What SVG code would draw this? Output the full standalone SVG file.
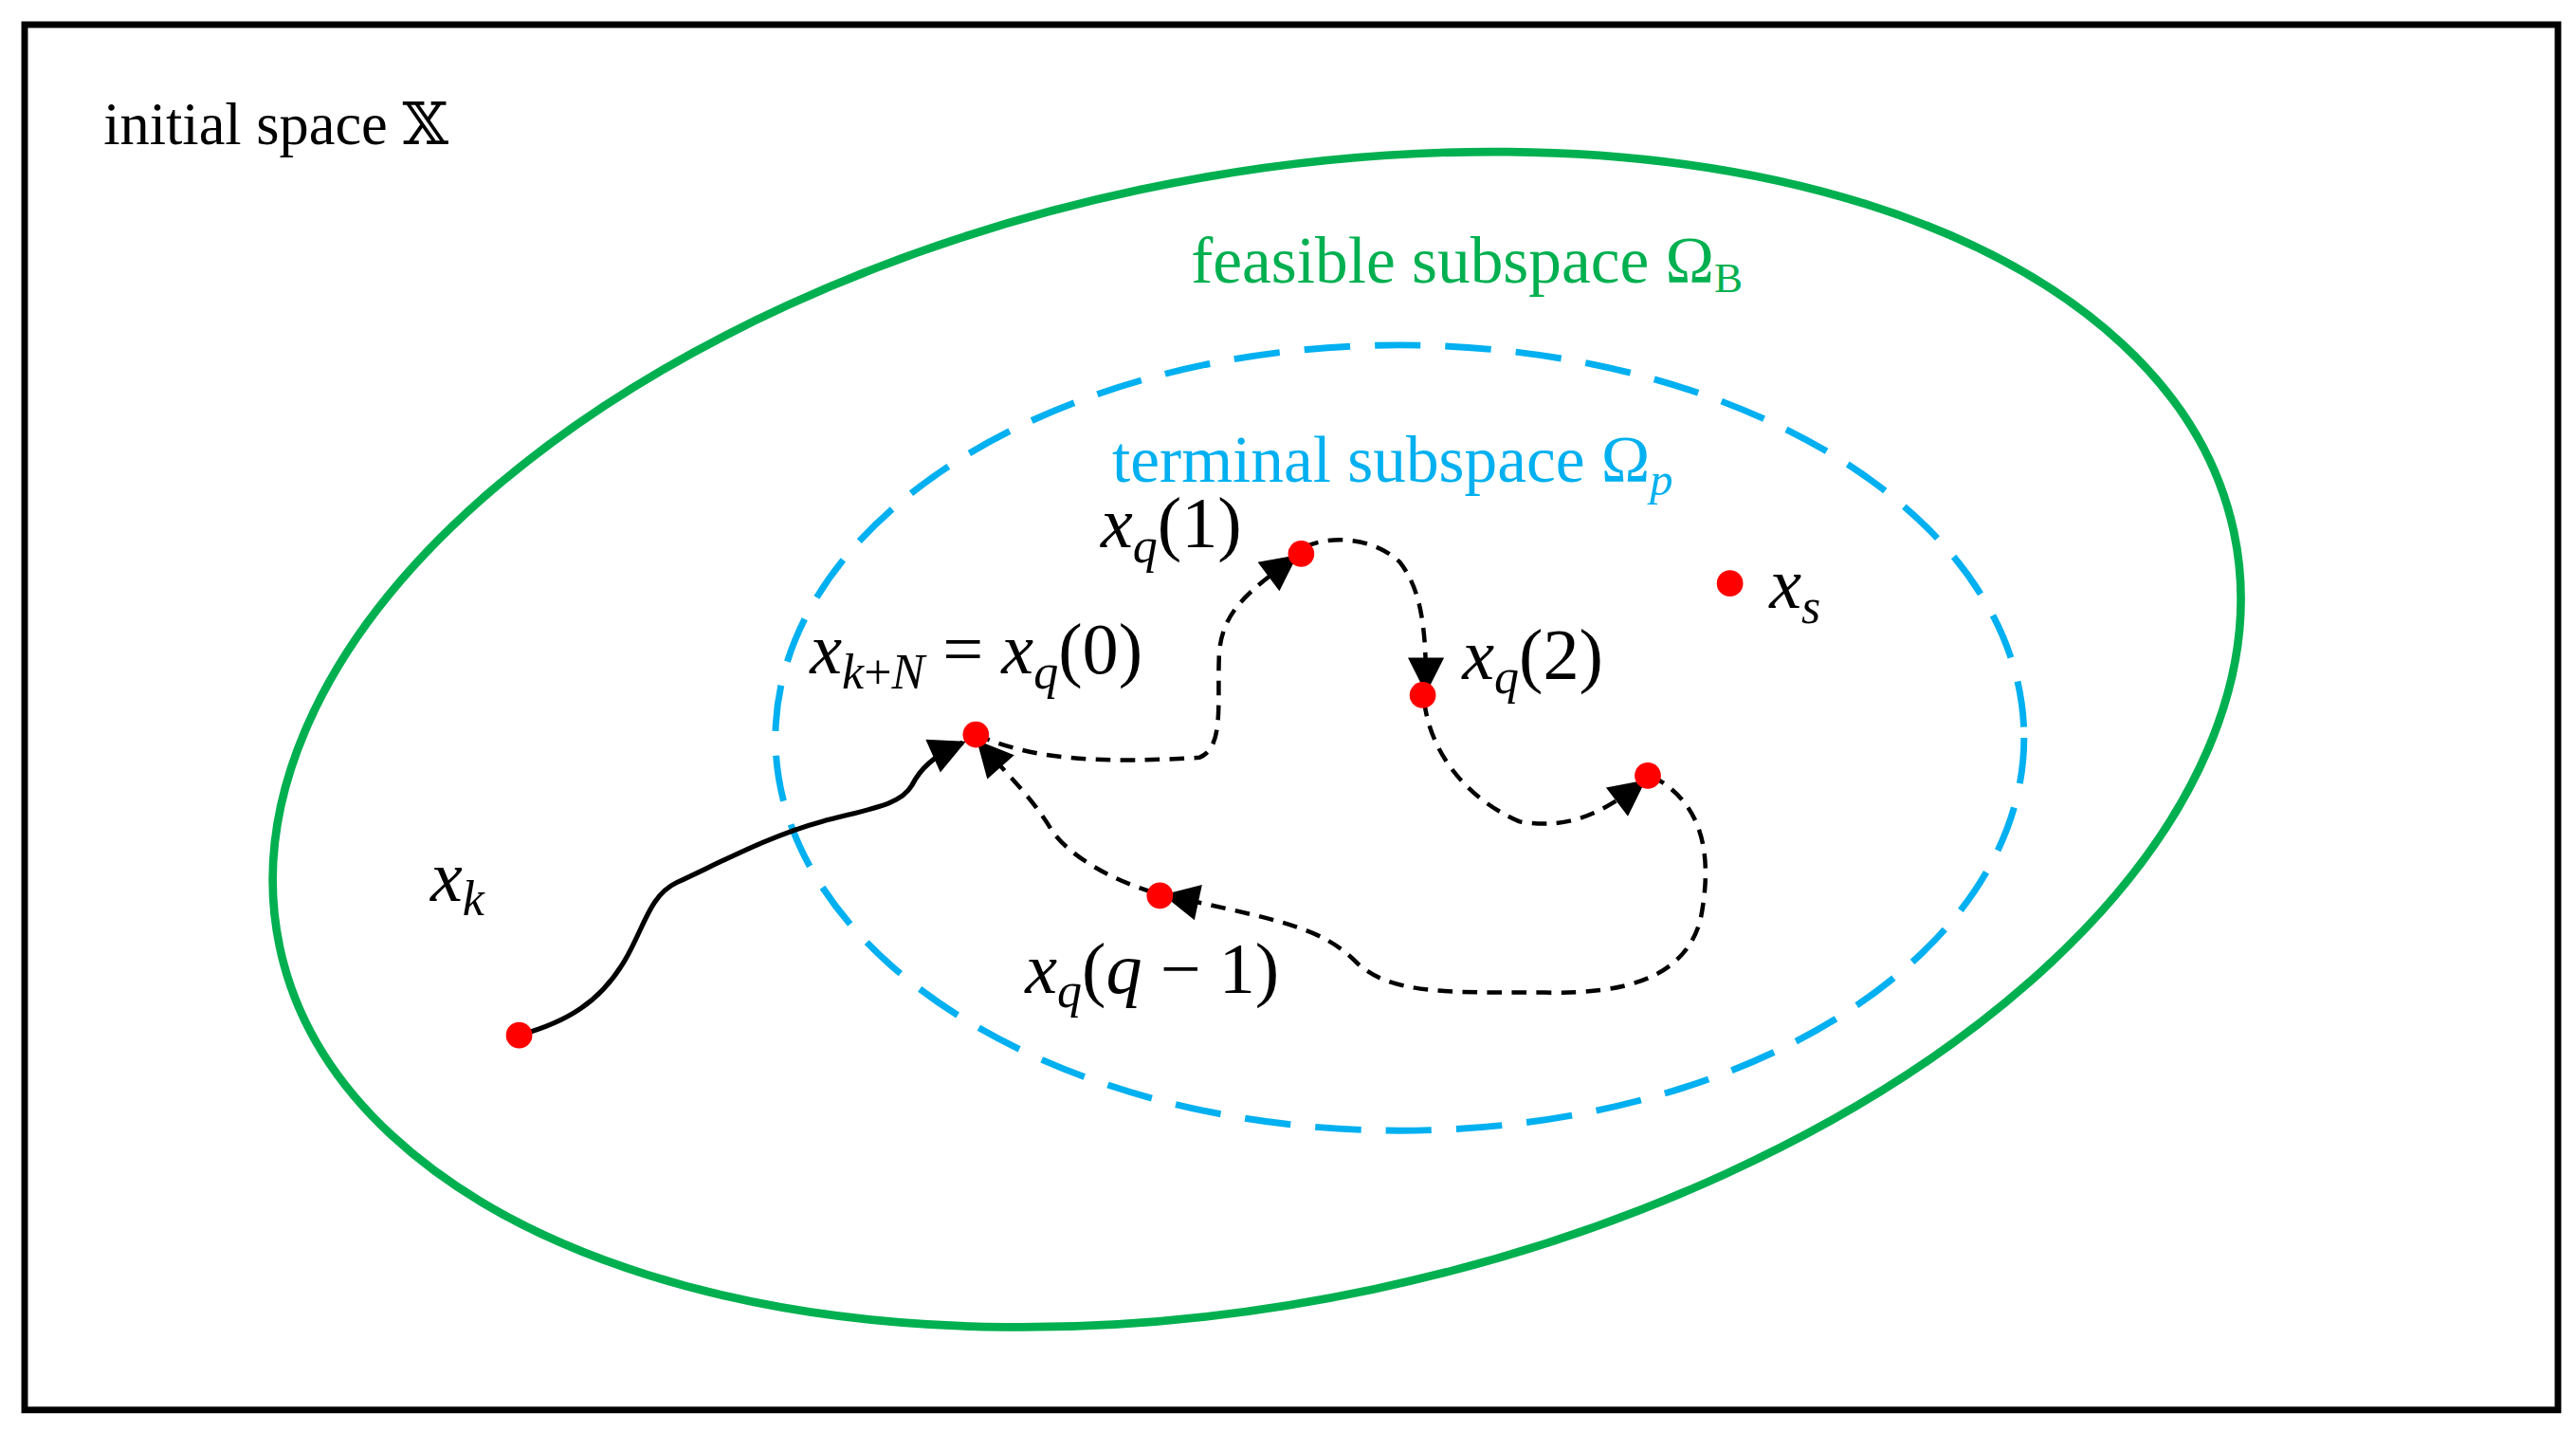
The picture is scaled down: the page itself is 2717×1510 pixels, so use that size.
<svg xmlns="http://www.w3.org/2000/svg" width="2717" height="1510" viewBox="0 0 2717 1510">
<style>
.t{font-family:"Liberation Serif","DejaVu Serif",serif}
.m{font-family:"Liberation Serif","DejaVu Serif",serif;font-style:italic;font-size:44px;fill:#000}
.u{font-style:normal}
.dot{fill:#ff0000}
.dl{fill:none;stroke:#000;stroke-width:2.6;stroke-dasharray:9 6;marker-end:url(#ah)}
</style>
<defs>
<marker id="ah" viewBox="0 0 10 10" refX="9" refY="5" markerWidth="24" markerHeight="22" markerUnits="userSpaceOnUse" orient="auto"><path d="M0,0 L10,5 L0,10 z" fill="#000"/></marker>
</defs>
<rect width="2717" height="1510" fill="#fff"/>
<g transform="scale(1.7328)">
<g id="frame"><rect x="15" y="15" width="1542" height="843" fill="none" stroke="#000" stroke-width="4"/>
<text class="t" x="63" y="88" font-size="36">initial space 𝕏</text></g>
<g id="feasible"><ellipse cx="765" cy="450" rx="608" ry="342" transform="rotate(-12 765 450)" fill="none" stroke="#00b050" stroke-width="5"/>
<text class="t" x="725" y="172" font-size="40" fill="#00b050">feasible subspace Ω<tspan font-size="26" dy="6">B</tspan></text></g>
<g id="terminal"><ellipse cx="852" cy="449" rx="380" ry="239" fill="none" stroke="#00b0f0" stroke-width="4" stroke-dasharray="28 15"/>
<text class="t" x="677" y="293" font-size="40" fill="#00b0f0">terminal subspace Ω<tspan font-size="28" dy="8" font-style="italic">p</tspan></text></g>
<g id="connectors">
<path d="M316,630 C345,622 365,610 380,585 C392,565 395,545 412,537 C440,524 470,508 500,500 C530,492 548,490 555,478 C560,468 568,460 586,452" fill="none" stroke="#000" stroke-width="3" marker-end="url(#ah)"/>
<path class="dl" d="M594,447 C620,458 650,466 730,461 C745,455 741,430 742,400 C743,372 760,360 788,339"/>
<path class="dl" d="M794,333 C808,326 835,326 852,342 C866,360 868,385 868,420"/>
<path class="dl" d="M867,427 C870,455 890,485 925,500 C955,505 975,495 1000,476"/>
<path class="dl" d="M1005,472 C1030,485 1045,510 1035,560 C1025,595 990,605 940,604 C880,604 845,605 825,585 C805,565 780,560 710,545"/>
<path class="dl" d="M702,543 C675,535 650,520 640,505 C628,485 612,470 596,452"/>
</g>
<g id="points">
<circle class="dot" cx="316" cy="630" r="8"/>
<circle class="dot" cx="594" cy="447" r="8"/>
<circle class="dot" cx="792" cy="337" r="8"/>
<circle class="dot" cx="866" cy="423" r="8"/>
<circle class="dot" cx="1003" cy="472" r="8"/>
<circle class="dot" cx="706" cy="545" r="8"/>
<circle class="dot" cx="1053" cy="355" r="8"/>
</g>
<g id="labels">
<text class="m" x="262" y="548">x<tspan font-size="30" dy="9">k</tspan></text>
<text class="m" x="493" y="410">x<tspan font-size="30" dy="9">k<tspan class="u">+</tspan>N</tspan><tspan class="u" dy="-9"> = </tspan>x<tspan font-size="30" dy="9">q</tspan><tspan class="u" dy="-9">(0)</tspan></text>
<text class="m" x="670" y="333">x<tspan font-size="30" dy="9">q</tspan><tspan class="u" dy="-9">(1)</tspan></text>
<text class="m" x="890" y="413">x<tspan font-size="30" dy="9">q</tspan><tspan class="u" dy="-9">(2)</tspan></text>
<text class="m" x="1077" y="370">x<tspan font-size="30" dy="9">s</tspan></text>
<text class="m" x="624" y="604">x<tspan font-size="30" dy="9">q</tspan><tspan class="u" dy="-9">(</tspan>q<tspan class="u"> − 1)</tspan></text>
</g>
</g>
</svg>
